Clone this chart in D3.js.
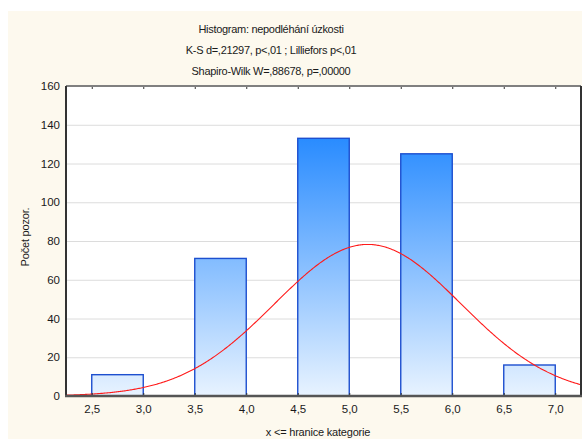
<!DOCTYPE html>
<html>
<head>
<meta charset="utf-8">
<script src="https://cdn.jsdelivr.net/npm/d3@7/dist/d3.min.js"></script>
<style>
  html, body { margin: 0; padding: 0; background: #ffffff; }
  svg { display: block; }
  text { font-family: "Liberation Sans", Arial, sans-serif; fill: #1a1a1a; }
</style>
</head>
<body>
<svg id="chart" width="582" height="439"></svg>
<script>
// Histogram categories: lower bound of each bar (bin width 0.5, label "x <= upper bound")
const binLows = [2.5, 3.5, 4.5, 5.5, 6.5];
const binWidth = 0.5;
const counts = [11, 71, 133, 125, 16];

const xTicks = [2.5, 3.0, 3.5, 4.0, 4.5, 5.0, 5.5, 6.0, 6.5, 7.0];
const yTicks = [0, 20, 40, 60, 80, 100, 120, 140, 160];

const titleLines = [
  "Histogram: nepodléhání úzkosti",
  "K-S d=,21297, p<,01 ; Lilliefors p<,01",
  "Shapiro-Wilk W=,88678, p=,00000"
];
const xLabel = "x <= hranice kategorie";
const yLabel = "Počet pozor.";

const svg = d3.select("#chart");
const W = 582, H = 439;
const plot = { left: 66, right: 581, top: 86, bottom: 396 };

// panel background
svg.append("rect").attr("x", 8).attr("y", 11).attr("width", W - 8).attr("height", H - 11)
  .attr("fill", "#fdf9ee");
svg.append("rect").attr("x", plot.left).attr("y", plot.top)
  .attr("width", plot.right - plot.left).attr("height", plot.bottom - plot.top)
  .attr("fill", "#ffffff");

const x = d3.scaleLinear().domain([2.25, 7.25]).range([plot.left, plot.right]);
const y = d3.scaleLinear().domain([0, 160]).range([plot.bottom, plot.top]);

const fmtX = d => d.toFixed(1).replace(".", ",");

// horizontal grid
svg.append("g")
  .attr("transform", `translate(${plot.left},0)`)
  .call(d3.axisLeft(y).tickValues(yTicks).tickSize(-(plot.right - plot.left)).tickFormat(""))
  .call(g => g.select(".domain").remove())
  .call(g => g.selectAll("line").attr("stroke", "#dcdcdc").attr("stroke-width", 1));

// bar gradient in plot space
const defs = svg.append("defs");
const grad = defs.append("linearGradient").attr("id", "barFill")
  .attr("gradientUnits", "userSpaceOnUse")
  .attr("x1", 0).attr("x2", 0).attr("y1", y(0)).attr("y2", y(140));
grad.append("stop").attr("offset", "0%").attr("stop-color", "#e8f3ff");
grad.append("stop").attr("offset", "100%").attr("stop-color", "#1f86ff");

// bars
const bins = binLows.map((lo, i) => ({ lo, hi: lo + binWidth, n: counts[i] }));
svg.append("g").selectAll("rect").data(bins).join("rect")
  .attr("x", d => x(d.lo))
  .attr("y", d => y(d.n))
  .attr("width", d => x(d.hi) - x(d.lo))
  .attr("height", d => y(0) - y(d.n))
  .attr("fill", "url(#barFill)")
  .attr("stroke", "#1d4fcf")
  .attr("stroke-width", 1.4);

// expected normal curve fitted to the binned data (values at category upper bounds)
const total = d3.sum(counts);
const mids = bins.map(d => d.hi);
const mean = d3.sum(mids.map((m, i) => m * counts[i])) / total;
const sd = Math.sqrt(d3.sum(mids.map((m, i) => counts[i] * (m - mean) ** 2)) / (total - 1));
const expected = v => total * binWidth * Math.exp(-0.5 * ((v - mean) / sd) ** 2) / (sd * Math.sqrt(2 * Math.PI));
const curveX = d3.range(x.domain()[0], x.domain()[1] + 0.001, 0.01);
svg.append("path")
  .datum(curveX)
  .attr("fill", "none")
  .attr("stroke", "#ff1a1a")
  .attr("stroke-width", 1.1)
  .attr("d", d3.line().x(v => x(v)).y(v => y(expected(v))));

// axes
const xAxis = svg.append("g")
  .attr("transform", `translate(0,${plot.bottom})`)
  .call(d3.axisBottom(x).tickValues(xTicks).tickFormat(fmtX).tickSize(-3).tickPadding(9));
xAxis.select(".domain").remove();
xAxis.selectAll("line").attr("stroke", "#333");
xAxis.selectAll("text").attr("font-size", 11.5).attr("fill", "#1a1a1a")
  .style("font-family", "'Liberation Sans', Arial, sans-serif");

const topAxis = svg.append("g")
  .attr("transform", `translate(0,${plot.top})`)
  .call(d3.axisTop(x).tickValues(xTicks).tickFormat("").tickSize(-3));
topAxis.select(".domain").remove();
topAxis.selectAll("line").attr("stroke", "#333");

const yAxis = svg.append("g")
  .attr("transform", `translate(${plot.left},0)`)
  .call(d3.axisLeft(y).tickValues(yTicks).tickSize(0).tickPadding(6));
yAxis.select(".domain").remove();
yAxis.selectAll("text").attr("font-size", 11.5).attr("fill", "#1a1a1a")
  .style("font-family", "'Liberation Sans', Arial, sans-serif");

// plot frame
svg.append("line").attr("x1", plot.left).attr("x2", plot.right).attr("y1", plot.top).attr("y2", plot.top)
  .attr("stroke", "#808080").attr("stroke-width", 2);
svg.append("line").attr("x1", plot.right).attr("x2", plot.right).attr("y1", plot.top).attr("y2", plot.bottom)
  .attr("stroke", "#333").attr("stroke-width", 2);
svg.append("line").attr("x1", plot.left).attr("x2", plot.left).attr("y1", plot.top).attr("y2", plot.bottom)
  .attr("stroke", "#333").attr("stroke-width", 2);
svg.append("line").attr("x1", plot.left - 1).attr("x2", plot.right + 1).attr("y1", plot.bottom).attr("y2", plot.bottom)
  .attr("stroke", "#555").attr("stroke-width", 2.5);

// titles
svg.append("g").selectAll("text").data(titleLines).join("text")
  .attr("x", 271)
  .attr("y", (d, i) => 33 + i * 21)
  .attr("text-anchor", "middle")
  .attr("font-size", 11)
  .attr("letter-spacing", -0.3)
  .text(d => d);

svg.append("text")
  .attr("x", 318).attr("y", 436)
  .attr("text-anchor", "middle")
  .attr("font-size", 11)
  .attr("letter-spacing", -0.2)
  .text(xLabel);

svg.append("text")
  .attr("transform", "translate(29,237) rotate(-90)")
  .attr("text-anchor", "middle")
  .attr("font-size", 11)
  .attr("letter-spacing", -0.2)
  .text(yLabel);
</script>
</body>
</html>
